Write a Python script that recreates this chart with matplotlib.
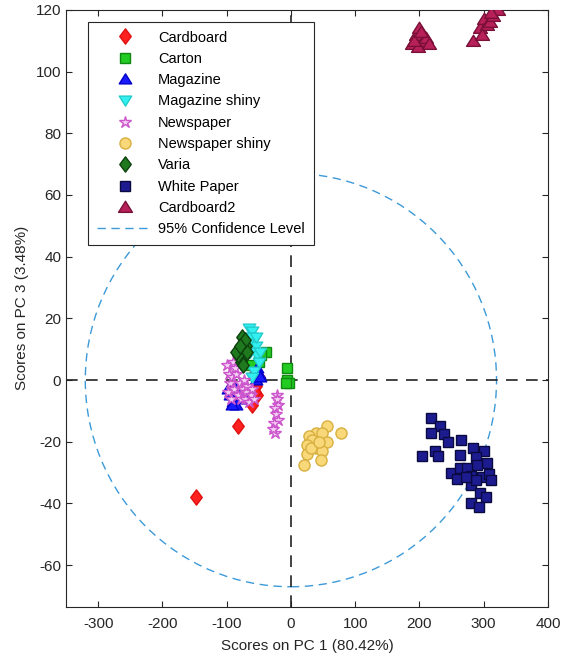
import matplotlib
matplotlib.use("Agg")
import matplotlib.pyplot as plt
from matplotlib.patches import Ellipse
from matplotlib.path import Path
import numpy as np

plt.rcParams['font.family'] = ['Liberation Sans', 'DejaVu Sans']
plt.rcParams['axes.unicode_minus'] = False

# --- data (PC1, PC3 scores) ---
cardboard_x = [-148, -82, -55, -52, -58, -60, -50, -56]
cardboard_y = [-38, -15, -2, -5, 2, -8, 1, -4]

carton_x = [-39, -47, -6, -6, -3, -7, -50, -62]
carton_y = [9, 8, 4, 0, -1, -1, 6, 5]

magazine_x = [-95, -90, -85, -98, -80, -88, -92, -78, -53, -50, -55, -48, -70, -65]
magazine_y = [-5, -7, -8, -3, -6, -2, -8, -4, 4, 2, 0, 1, -3, -5]

mag_shiny_x = [-65, -60, -58, -62, -55, -52, -50, -57, -60, -67, -70, -55, -63, -48]
mag_shiny_y = [17, 16, 13, 14, 11, 8, 6, 3, 1, 12, 10, 14, 9, 9]

newspaper_x = [-100, -97, -95, -98, -92, -90, -88, -85, -82, -80, -77, -75, -72, -70,
               -68, -65, -62, -60, -58, -73, -94, -87,
               -22, -20, -25, -23, -20, -26, -24, -28, -21]
newspaper_y = [5, 2, -1, -4, 1, 6, -3, 2, -5, -1, -6, -3, -6, -4,
               -2, -7, -5, -3, -6, 0, -6, 4,
               -5, -8, -9, -11, -13, -14, -17, -16, -6]

news_shiny_x = [56, 78, 39, 28, 48, 33, 56, 25, 39, 48, 25, 47, 20, 31, 44]
news_shiny_y = [-15, -17, -17, -18, -17, -19.5, -20, -21, -22, -23, -24, -26, -27.6, -22, -20]

varia_x = [-80, -75, -72, -78, -70, -82, -74, -68, -76, -85, -72, -79]
varia_y = [10, 12, 8, 6, 11, 8, 5, 9, 14, 9, 13, 11]

white_x = [218, 232, 218, 238, 244, 264, 204, 225, 229, 263, 283, 300, 288, 305, 289,
           249, 263, 274, 258, 281, 297, 308, 311, 280, 295, 303, 280, 292, 288, 272]
white_y = [-12.3, -15, -17, -17.5, -20, -19.5, -24.6, -23, -24.6, -24.3, -22, -23, -25,
           -27, -27.6, -30, -28.6, -28.6, -32, -31, -31.5, -30.5, -32.4, -34, -36.7,
           -38, -40, -41, -32.4, -31.4]

cardboard2_x = [188, 195, 200, 205, 198, 210, 192, 203, 215,
                283, 295, 300, 305, 310, 315, 322, 298, 312]
cardboard2_y = [109, 112, 114, 110, 108, 111, 110, 113, 109,
                110, 114, 117, 115, 116, 118, 120, 112, 119]

# 95% confidence ellipse (semi-axes)
conf_a = 320
conf_b = 67

# matlab-like diamond (taller than wide)
diamond = Path([(0, 1), (0.75, 0), (0, -1), (-0.75, 0), (0, 1)],
               [Path.MOVETO, Path.LINETO, Path.LINETO, Path.LINETO, Path.CLOSEPOLY])
# matlab-like triangles (wider than tall)
tri_up = Path([(-1, -0.7), (1, -0.7), (0, 0.9), (-1, -0.7)],
              [Path.MOVETO, Path.LINETO, Path.LINETO, Path.CLOSEPOLY])
tri_dn = Path([(-1, 0.7), (1, 0.7), (0, -0.9), (-1, 0.7)],
              [Path.MOVETO, Path.LINETO, Path.LINETO, Path.CLOSEPOLY])

fig = plt.figure(figsize=(5.69, 6.61), dpi=100)
ax = fig.add_axes([0.116, 0.082, 0.847, 0.903])

ms = 7
ax.plot(cardboard_x, cardboard_y, marker=diamond, ls='none', color='#ff2020', mec='#e01010', ms=ms + 4, label='Cardboard', zorder=3)
ax.plot(carton_x, carton_y, 's', color='#22cc22', mec='#118811', ms=ms, label='Carton', zorder=3)
ax.plot(magazine_x, magazine_y, marker=tri_up, ls='none', color='#1a1aff', mec='#0000cc', ms=ms + 2, label='Magazine', zorder=3)
ax.plot(mag_shiny_x, mag_shiny_y, marker=tri_dn, ls='none', color='#33f0f0', mec='#22cccc', ms=ms + 2, label='Magazine shiny', zorder=3)
ax.plot(newspaper_x, newspaper_y, '*', color='#f4d0f4', mec='#cc55cc', ms=ms + 2, mew=1, label='Newspaper', zorder=3)
ax.plot(news_shiny_x, news_shiny_y, 'o', color='#f8d878', mec='#d8b040', ms=ms + 1, label='Newspaper shiny', zorder=3)
ax.plot(varia_x, varia_y, marker=diamond, ls='none', color='#1f7a1f', mec='#0d400d', ms=ms + 4, label='Varia', zorder=4)
ax.plot(white_x, white_y, 's', color='#1c1c90', mec='#0a0a40', ms=ms, label='White Paper', zorder=3)
ax.plot(cardboard2_x, cardboard2_y, marker=tri_up, ls='none', color='#b8205a', mec='#7a1038', ms=ms + 3, label='Cardboard2', zorder=3)

ell = Ellipse((0, 0), 2 * conf_a, 2 * conf_b, fill=False, ec='#3c9ad8', lw=1,
              ls=(0, (6, 4)), zorder=2)
ax.add_patch(ell)
ax.plot([], [], ls=(0, (6, 4)), color='#3c9ad8', lw=1, label='95% Confidence Level')

ax.axhline(0, color='#222222', lw=1.2, ls=(0, (7, 5)), zorder=2)
ax.axvline(0, color='#222222', lw=1.2, ls=(0, (7, 5)), zorder=2)

ax.set_xlim(-350, 400)
ax.set_ylim(-73.5, 120)
ax.set_xticks(np.arange(-300, 401, 100))
ax.set_yticks(np.arange(-60, 121, 20))
ax.tick_params(direction='in', labelsize=11, colors='#262626', top=True, right=True, length=4)
ax.tick_params(axis='x', pad=7)
for s in ax.spines.values():
    s.set_color('#262626')
    s.set_linewidth(0.8)

ax.set_xlabel('Scores on PC 1 (80.42%)', fontsize=11, color='#262626', labelpad=6)
ax.set_ylabel('Scores on PC 3 (3.48%)', fontsize=11, color='#262626', labelpad=5)

leg = ax.legend(loc='upper left', bbox_to_anchor=(0.046, 0.98), borderaxespad=0,
                fontsize=10.5, handlelength=3.8, labelspacing=0.5, fancybox=False,
                framealpha=1, edgecolor='#262626', handletextpad=0.4, borderpad=0.6)
leg.get_frame().set_linewidth(0.8)

fig.savefig('out.png', dpi=100)
